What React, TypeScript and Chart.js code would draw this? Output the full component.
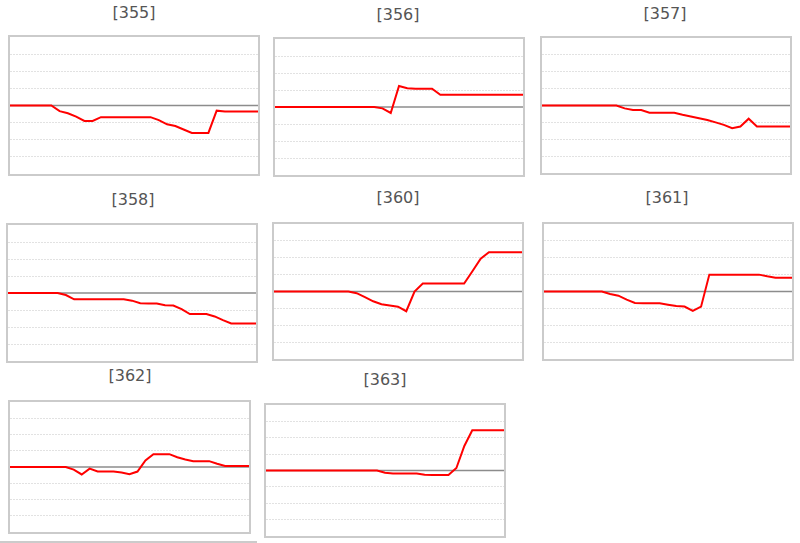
import React, { useEffect, useRef } from "react";
import { Chart, registerables } from "chart.js";

Chart.register(...registerables);

// Categories (time steps along each panel's x axis)
const STEPS = [
  "1", "2", "3", "4", "5", "6", "7", "8", "9", "10",
  "11", "12", "13", "14", "15", "16", "17", "18", "19", "20",
  "21", "22", "23", "24", "25", "26", "27", "28", "29", "30", "31",
];

// Panel titles
const TITLES = ["[355]", "[356]", "[357]", "[358]", "[360]", "[361]", "[362]", "[363]"];

// Series values per panel
const S355 = [0, 0, 0, 0, 0, 0, -0.33, -0.45, -0.65, -0.9, -0.9, -0.68, -0.68, -0.68, -0.68, -0.68, -0.68, -0.68, -0.85, -1.1, -1.2, -1.4, -1.6, -1.6, -1.6, -0.3, -0.35, -0.35, -0.35, -0.35, -0.35];
const S356 = [0, 0, 0, 0, 0, 0, 0, 0, 0, 0, 0, 0, 0, -0.08, -0.35, 1.24, 1.1, 1.07, 1.07, 1.07, 0.72, 0.72, 0.72, 0.72, 0.72, 0.72, 0.72, 0.72, 0.72, 0.72, 0.72];
const S357 = [0, 0, 0, 0, 0, 0, 0, 0, 0, 0, -0.17, -0.27, -0.27, -0.43, -0.43, -0.43, -0.43, -0.55, -0.65, -0.76, -0.86, -1.0, -1.15, -1.34, -1.25, -0.78, -1.24, -1.24, -1.24, -1.24, -1.24];
const S358 = [0, 0, 0, 0, 0, 0, 0, -0.12, -0.37, -0.37, -0.37, -0.37, -0.37, -0.37, -0.37, -0.45, -0.6, -0.62, -0.62, -0.72, -0.74, -0.95, -1.24, -1.24, -1.24, -1.38, -1.6, -1.79, -1.79, -1.79, -1.79];
const S360 = [0, 0, 0, 0, 0, 0, 0, 0, 0, 0, -0.1, -0.33, -0.58, -0.75, -0.83, -0.9, -1.17, 0, 0.47, 0.47, 0.47, 0.47, 0.47, 0.47, 1.2, 1.95, 2.33, 2.33, 2.33, 2.33, 2.33];
const S361 = [0, 0, 0, 0, 0, 0, 0, 0, -0.15, -0.25, -0.48, -0.68, -0.7, -0.7, -0.7, -0.78, -0.86, -0.89, -1.15, -0.9, 1.0, 1.0, 1.0, 1.0, 1.0, 1.0, 1.0, 0.9, 0.82, 0.82, 0.82];
const S362 = [0, 0, 0, 0, 0, 0, 0, 0, -0.16, -0.46, -0.1, -0.28, -0.28, -0.28, -0.34, -0.44, -0.28, 0.4, 0.79, 0.79, 0.79, 0.6, 0.46, 0.36, 0.36, 0.36, 0.2, 0.06, 0.06, 0.06, 0.06];
const S363 = [0, 0, 0, 0, 0, 0, 0, 0, 0, 0, 0, 0, 0, 0, 0, -0.14, -0.18, -0.18, -0.18, -0.18, -0.26, -0.28, -0.28, -0.28, 0.15, 1.5, 2.46, 2.46, 2.46, 2.46, 2.46];

const SERIES = [S355, S356, S357, S358, S360, S361, S362, S363];

// Layout: [left, top, right, bottom, titleCenterX, titleCenterY]
const BOXES: number[][] = [
  [9, 36, 259, 175, 134, 13],
  [274, 38, 524, 176, 398, 15],
  [541, 37, 791, 174, 665, 14],
  [7, 224, 257, 362, 133, 200],
  [273, 223, 523, 360, 398, 198],
  [543, 223, 793, 360, 667, 198],
  [9, 401, 250, 533, 130, 376],
  [265, 404, 505, 537, 385, 380],
];

const zeroLinePlugin = {
  id: "zeroLine",
  beforeDatasetsDraw(chart: any) {
    const { ctx, chartArea, scales } = chart;
    const y = scales.y.getPixelForValue(0);
    ctx.save();
    ctx.strokeStyle = "#8c8c8c";
    ctx.lineWidth = 1.5;
    ctx.beginPath();
    ctx.moveTo(chartArea.left, y);
    ctx.lineTo(chartArea.right, y);
    ctx.stroke();
    ctx.restore();
  },
};

function Panel({ idx }: { idx: number }) {
  const ref = useRef<HTMLCanvasElement | null>(null);
  const [l, t, r, b, tx, ty] = BOXES[idx];
  const w = r - l;
  const h = b - t;
  useEffect(() => {
    if (!ref.current) return;
    const chart = new Chart(ref.current, {
      type: "line",
      data: {
        labels: STEPS,
        datasets: [
          {
            data: SERIES[idx],
            borderColor: "#ff0000",
            borderWidth: 2,
            pointRadius: 0,
            tension: 0,
            fill: false,
          },
        ],
      },
      options: {
        responsive: false,
        animation: false,
        events: [],
        layout: { padding: 0 },
        plugins: { legend: { display: false }, tooltip: { enabled: false }, title: { display: false } },
        scales: {
          x: { display: false, offset: false },
          y: {
            min: -4,
            max: 4,
            ticks: { display: false, stepSize: 1 },
            border: { display: false, dash: [2, 1] },
            grid: {
              drawTicks: false,
              color: (c: any) => {
                const v = c.tick ? c.tick.value : 0;
                if (v === 0 || Math.abs(v) === 4) return "rgba(0,0,0,0)";
                return "#e2e2e2";
              },
              lineWidth: 1,
            },
          },
        },
      },
      plugins: [zeroLinePlugin],
    });
    return () => chart.destroy();
  }, [idx]);
  return (
    <>
      <div
        style={{
          position: "absolute",
          left: tx - 60,
          top: ty - 11,
          width: 120,
          height: 22,
          lineHeight: "22px",
          textAlign: "center",
          fontFamily: "'DejaVu Sans', sans-serif",
          fontSize: 16,
          color: "#555555",
        }}
      >
        {TITLES[idx]}
      </div>
      <div
        style={{
          position: "absolute",
          left: l - 1,
          top: t - 1,
          width: w + 2,
          height: h + 2,
          boxSizing: "border-box",
          border: "2px solid #cbcbcb",
          background: "#ffffff",
        }}
      >
        <canvas ref={ref} width={w - 2} height={h - 2} style={{ display: "block", width: w - 2, height: h - 2 }} />
      </div>
    </>
  );
}

export default function App() {
  return (
    <div style={{ position: "absolute", left: 0, top: 0, width: 800, height: 543, background: "#ffffff", overflow: "hidden" }}>
      {BOXES.map((_, i) => (
        <Panel key={i} idx={i} />
      ))}
      <div style={{ position: "absolute", left: 0, top: 541, width: 257, height: 2, background: "#cbcbcb" }} />
    </div>
  );
}
